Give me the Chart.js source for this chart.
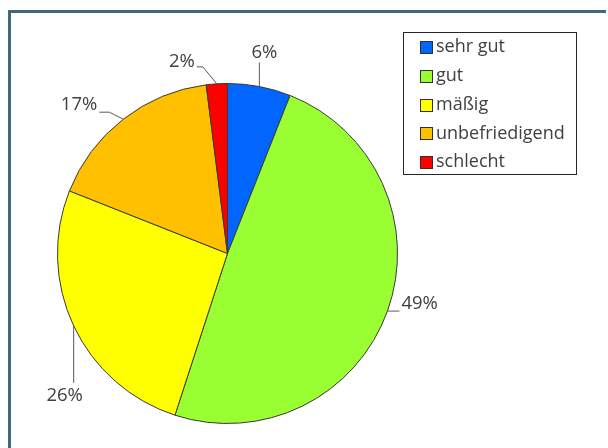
<!DOCTYPE html>
<html><head><meta charset="utf-8">
<script src="https://cdn.jsdelivr.net/npm/chart.js@4/dist/chart.umd.min.js"></script>
<style>html,body{margin:0;padding:0;background:#fff;overflow:hidden;}#wrap{width:608px;height:448px;position:relative;}canvas{display:block;}</style>
</head><body><div id="wrap"><canvas id="c" width="608" height="448"></canvas></div>
<script>
const categories = ["sehr gut", "gut", "mäßig", "unbefriedigend", "schlecht"];
const percentages = [6, 49, 26, 17, 2];
const sliceColors = ["#0066ff", "#99ff33", "#ffff00", "#ffc000", "#ff0000"];
const valueLabels = ["6%", "49%", "26%", "17%", "2%"];

const FONT = "'Open Sans', Lato, sans-serif";
const TEXT = "#404040";

// leader offsets relative to the slice's mid-arc point (layout only)
const leaders = [
  {pts: [[0, -24]], text: [5, -34], align: "center"},
  {pts: [[12, 0]], text: [14, -7], align: "left"},
  {pts: [[0, 57]], text: [-9, 70], align: "center"},
  {pts: [[-14, -7], [-24, -7]], text: [-26, -14], align: "right"},
  {pts: [[-14, -17], [-20, -17]], text: [-22, -22], align: "right"}
];

const framePlugin = {
  id: "frame",
  beforeDraw(chart) {
    const ctx = chart.ctx;
    ctx.save();
    ctx.fillStyle = "#fff";
    ctx.fillRect(0, 0, chart.width, chart.height);
    ctx.strokeStyle = "#3e6a7b";
    ctx.lineWidth = 3;
    ctx.beginPath();
    ctx.moveTo(9.5, chart.height + 5);
    ctx.lineTo(9.5, 11.5);
    ctx.lineTo(chart.width - 2, 11.5);
    ctx.stroke();
    ctx.restore();
  }
};

const labelPlugin = {
  id: "leaderLabels",
  afterDraw(chart) {
    const ctx = chart.ctx;
    const meta = chart.getDatasetMeta(0);
    ctx.save();
    ctx.font = "18.5px " + FONT;
    ctx.textBaseline = "middle";
    meta.data.forEach((arc, i) => {
      const p = arc.getProps(["x", "y", "startAngle", "endAngle", "outerRadius"], true);
      const mid = (p.startAngle + p.endAngle) / 2;
      const ax = p.x + Math.cos(mid) * p.outerRadius;
      const ay = p.y + Math.sin(mid) * p.outerRadius;
      const L = leaders[i];
      ctx.strokeStyle = "#595959";
      ctx.lineWidth = 1;
      ctx.beginPath();
      ctx.moveTo(ax, ay);
      L.pts.forEach(q => ctx.lineTo(ax + q[0], ay + q[1]));
      ctx.stroke();
      ctx.fillStyle = TEXT;
      ctx.textAlign = L.align;
      ctx.fillText(valueLabels[i], ax + L.text[0], ay + L.text[1]);
    });
    // legend
    const lx = 403.5, ly = 32.5, lw = 173, lh = 142;
    ctx.strokeStyle = "#262626";
    ctx.lineWidth = 1;
    ctx.strokeRect(lx, ly, lw, lh);
    ctx.font = "18px " + FONT;
    ctx.textAlign = "left";
    categories.forEach((c, i) => {
      const cy = 47 + i * 28.8;
      ctx.fillStyle = sliceColors[i];
      ctx.fillRect(420, Math.round(cy - 6), 13, 13);
      ctx.strokeStyle = "#303030";
      ctx.strokeRect(420.5, Math.round(cy - 6) + 0.5, 12, 12);
      ctx.fillStyle = TEXT;
      ctx.fillText(c, 436, cy);
    });
    ctx.restore();
  }
};

new Chart(document.getElementById("c"), {
  type: "pie",
  data: {
    labels: categories,
    datasets: [{
      data: percentages,
      backgroundColor: sliceColors,
      borderColor: "#3a3a3a",
      borderWidth: 1
    }]
  },
  options: {
    responsive: false,
    animation: false,
    layout: {padding: {left: 57, right: 210, top: 83, bottom: 24}},
    plugins: {legend: {display: false}, tooltip: {enabled: false}}
  },
  plugins: [framePlugin, labelPlugin]
});
</script></body></html>
